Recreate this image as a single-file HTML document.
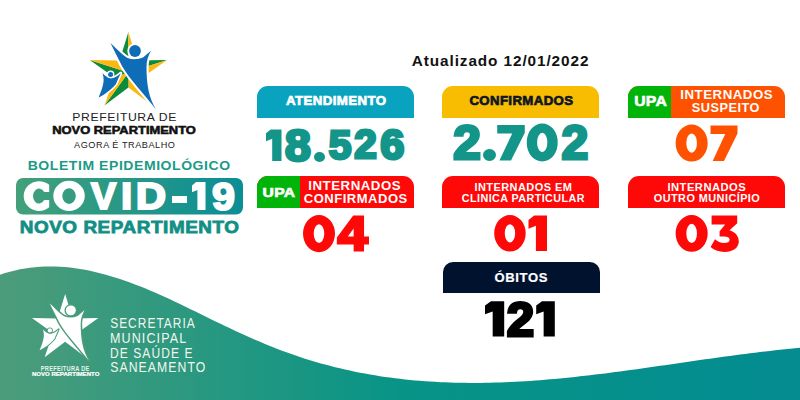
<!DOCTYPE html>
<html><head><meta charset="utf-8">
<style>
html,body{margin:0;padding:0;}
body{width:800px;height:400px;position:relative;overflow:hidden;background:#fff;font-family:"Liberation Sans",sans-serif;}
.t{position:absolute;left:0;top:0;white-space:nowrap;line-height:1;transform-origin:0 0;}
.hd{position:absolute;height:31px;border-radius:11px 11px 0 0;overflow:hidden;}
.g{position:absolute;left:0;top:0;width:43px;height:100%;background:#00b40a;}
svg{position:absolute;}
</style></head><body>
<svg style="left:0;top:0" width="800" height="400" viewBox="0 0 800 400">
<defs>
<linearGradient id="wg" x1="0" y1="0" x2="800" y2="0" gradientUnits="userSpaceOnUse">
<stop offset="0" stop-color="#4c9c7a"/>
<stop offset="0.5" stop-color="#079486"/>
<stop offset="1" stop-color="#048c91"/>
</linearGradient>
<linearGradient id="cg" x1="16" y1="0" x2="243" y2="0" gradientUnits="userSpaceOnUse">
<stop offset="0" stop-color="#43a07a"/>
<stop offset="1" stop-color="#0a8e96"/>
</linearGradient>
</defs>
<path d="M0,274.69 L5,273.07 L10,271.63 L15,270.38 L20,269.31 L25,268.42 L30,267.70 L35,267.14 L40,266.75 L45,266.51 L50,266.43 L55,266.50 L60,266.72 L65,267.07 L70,267.56 L75,268.18 L80,268.94 L85,269.81 L90,270.80 L95,271.91 L100,273.13 L105,274.46 L110,275.88 L115,277.41 L120,279.02 L125,280.73 L130,282.52 L135,284.39 L140,286.33 L145,288.35 L150,290.44 L155,292.58 L160,294.79 L165,297.04 L170,299.35 L175,301.70 L180,304.08 L185,306.48 L190,308.91 L195,311.35 L200,313.80 L205,316.25 L210,318.70 L215,321.13 L220,323.54 L225,325.94 L230,328.31 L235,330.66 L240,332.97 L245,335.25 L250,337.49 L255,339.69 L260,341.85 L265,343.95 L270,346.00 L275,347.99 L280,349.93 L285,351.80 L290,353.60 L295,355.35 L300,357.03 L305,358.65 L310,360.21 L315,361.71 L320,363.15 L325,364.54 L330,365.86 L335,367.13 L340,368.35 L345,369.51 L350,370.61 L355,371.66 L360,372.66 L365,373.61 L370,374.50 L375,375.35 L380,376.15 L385,376.90 L390,377.60 L395,378.25 L400,378.85 L405,379.41 L410,379.93 L415,380.40 L420,380.83 L425,381.22 L430,381.56 L435,381.87 L440,382.13 L445,382.35 L450,382.54 L455,382.69 L460,382.80 L465,382.87 L470,382.91 L475,382.91 L480,382.88 L485,382.82 L490,382.72 L495,382.60 L500,382.44 L505,382.25 L510,382.03 L515,381.79 L520,381.52 L525,381.21 L530,380.89 L535,380.54 L540,380.16 L545,379.76 L550,379.34 L555,378.89 L560,378.42 L565,377.94 L570,377.43 L575,376.90 L580,376.36 L585,375.79 L590,375.21 L595,374.62 L600,374.01 L605,373.38 L610,372.75 L615,372.10 L620,371.44 L625,370.76 L630,370.08 L635,369.39 L640,368.70 L645,367.99 L650,367.29 L655,366.57 L660,365.85 L665,365.13 L670,364.41 L675,363.69 L680,362.96 L685,362.24 L690,361.51 L695,360.79 L700,360.08 L705,359.36 L710,358.66 L715,357.95 L720,357.26 L725,356.57 L730,355.89 L735,355.23 L740,354.57 L745,353.92 L750,353.29 L755,352.67 L760,352.06 L765,351.47 L770,350.89 L775,350.34 L780,349.79 L785,349.27 L790,348.77 L795,348.29 L800,347.83 L800,400 L0,400 Z" fill="url(#wg)"/>
<rect x="16" y="178" width="227" height="36.6" rx="7" fill="url(#cg)"/>
</svg>
<svg style="left:0;top:0" width="800" height="400" viewBox="0 0 800 400">
<path d="M128.4,31.9 L119.58,60.46 L128.4,60.46 Z" fill="#0d8a3a"/>
<path d="M128.4,31.9 L128.4,60.46 L137.22,60.46 Z" fill="#fbb813"/>
<path d="M167.11,60.02 L137.22,60.46 L139.94,68.85 Z" fill="#0d8a3a"/>
<path d="M167.11,60.02 L139.94,68.85 L142.67,77.24 Z" fill="#fbb813"/>
<path d="M152.32,105.53 L142.67,77.24 L128.4,72.6 Z" fill="#0d8a3a"/>
<path d="M152.32,105.53 L128.4,72.6 L128.4,87.6 Z" fill="#fbb813"/>
<path d="M104.48,105.53 L128.4,87.6 L128.4,72.6 Z" fill="#0d8a3a"/>
<path d="M104.48,105.53 L128.4,72.6 L114.13,77.24 Z" fill="#fbb813"/>
<path d="M89.69,60.02 L114.13,77.24 L128.4,72.6 Z" fill="#0d8a3a"/>
<path d="M89.69,60.02 L128.4,72.6 L119.58,60.46 Z" fill="#fbb813"/>
<path d="M110.5,43 C116,48 121,54 127,57.8 Q135,61 143,57.5 L151,50.8 C148,56 146.5,61 146.5,67 C146.5,85 149,98 156,109.5 C145,95 130,80 122,66 C118,58 114,50 110.5,43 Z" fill="#0f6db8" stroke="#fff" stroke-width="4.2" stroke-linejoin="round" paint-order="stroke"/>
<circle cx="135" cy="51" r="5.9" fill="#0f6db8" stroke="#fff" stroke-width="3.6" paint-order="stroke"/>
<path d="M102.5,73.2 C106,76.5 108.5,78.3 111,78.3 C114,78.3 117,76.5 120.8,73.2 C119,77 117.5,80 116,84 C111,90 104,95 98.6,97.5 C101,92 103,86 103.5,82 C103.8,79 103.5,76 102.5,73.2 Z" fill="#0f6db8" stroke="#fff" stroke-width="3" stroke-linejoin="round" paint-order="stroke"/>
<circle cx="110.6" cy="74.4" r="2.5" fill="#0f6db8" stroke="#fff" stroke-width="2.6" paint-order="stroke"/>
</svg>
<svg style="left:0;top:0" width="800" height="400" viewBox="0 0 800 400">
<g transform="translate(65.15 328.9) scale(0.858) translate(-128.4 -72.6)">
<path d="M128.4,31.9 L119.58,60.46 L128.4,60.46 Z M128.4,31.9 L128.4,60.46 L137.22,60.46 Z M167.11,60.02 L137.22,60.46 L139.94,68.85 Z M167.11,60.02 L139.94,68.85 L142.67,77.24 Z M152.32,105.53 L142.67,77.24 L128.4,72.6 Z M152.32,105.53 L128.4,72.6 L128.4,87.6 Z M104.48,105.53 L128.4,87.6 L128.4,72.6 Z M104.48,105.53 L128.4,72.6 L114.13,77.24 Z M89.69,60.02 L114.13,77.24 L128.4,72.6 Z M89.69,60.02 L128.4,72.6 L119.58,60.46 Z" fill="#fff"/>
<path d="M110.5,43 C116,48 121,54 127,57.8 Q135,61 143,57.5 L151,50.8 C148,56 146.5,61 146.5,67 C146.5,85 149,98 156,109.5 C145,95 130,80 122,66 C118,58 114,50 110.5,43 Z" fill="#fff" stroke="#4a9c7b" stroke-width="3.4" stroke-linejoin="round" paint-order="stroke"/>
<circle cx="135" cy="51" r="5.8" fill="#fff" stroke="#4a9c7b" stroke-width="3.2" paint-order="stroke"/>
<path d="M102.5,73.2 C106,76.5 108.5,78.3 111,78.3 C114,78.3 117,76.5 120.8,73.2 C119,77 117.5,80 116,84 C111,90 104,95 98.6,97.5 C101,92 103,86 103.5,82 C103.8,79 103.5,76 102.5,73.2 Z" fill="#fff" stroke="#4a9c7b" stroke-width="2.4" stroke-linejoin="round" paint-order="stroke"/>
<circle cx="110.6" cy="74.4" r="2.5" fill="#fff" stroke="#4a9c7b" stroke-width="2" paint-order="stroke"/>
</g>
</svg>
<div class="hd" style="left:257px;top:86px;width:157px;height:31.5px;background:#09a3bf;"></div>
<div class="hd" style="left:442px;top:86px;width:157px;height:31.5px;background:#f8bc00;"></div>
<div class="hd" style="left:628px;top:86px;width:157px;height:31.5px;background:#ff5200;"><div class="g"></div></div>
<div class="hd" style="left:257px;top:176px;width:157px;height:31.5px;background:#ff0808;"><div class="g"></div></div>
<div class="hd" style="left:442px;top:176px;width:157px;height:31.5px;background:#ff0808;"></div>
<div class="hd" style="left:628px;top:176px;width:157px;height:31.5px;background:#ff0808;"></div>
<div class="hd" style="left:442.5px;top:262px;width:157px;height:30.8px;border-radius:10px 10px 0 0;background:#01122e;"></div>
<div class="t" style="font-size:14.7px;font-weight:bold;color:#111111;letter-spacing:0.06em;transform:translate(411.75px,53.96px) scaleX(1.0425);">Atualizado 12/01/2022</div>
<div class="t" style="font-size:13.04px;font-weight:bold;color:#ffffff;-webkit-text-stroke:0.7px #ffffff;letter-spacing:0.03em;transform:translate(286.07px,94.45px) scaleX(1.0181);">ATENDIMENTO</div>
<div class="t" style="font-size:13.04px;font-weight:bold;color:#0d1626;-webkit-text-stroke:0.7px #0d1626;letter-spacing:0.03em;transform:translate(469.38px,94.45px) scaleX(1.013);">CONFIRMADOS</div>
<div class="t" style="font-size:14.42px;font-weight:bold;color:#ffffff;-webkit-text-stroke:0.6px #ffffff;letter-spacing:0.02em;transform:translate(634.13px,94.45px) scaleX(1.0911);">UPA</div>
<div class="t" style="font-size:13.0px;font-weight:bold;color:#ffffff;letter-spacing:0.04em;transform:translate(680.29px,88.0px) scaleX(1.0189);">INTERNADOS</div>
<div class="t" style="font-size:13.21px;font-weight:bold;color:#ffffff;letter-spacing:0.04em;transform:translate(691.77px,101.0px) scaleX(0.9626);">SUSPEITO</div>
<div class="t" style="font-size:13.07px;font-weight:bold;color:#ffffff;-webkit-text-stroke:0.6px #ffffff;letter-spacing:0.02em;transform:translate(262.6px,186.45px) scaleX(1.1971);">UPA</div>
<div class="t" style="font-size:13.0px;font-weight:bold;color:#ffffff;letter-spacing:0.04em;transform:translate(308.29px,179.0px) scaleX(1.0189);">INTERNADOS</div>
<div class="t" style="font-size:13.0px;font-weight:bold;color:#ffffff;letter-spacing:0.04em;transform:translate(303.77px,192.0px) scaleX(1.0005);">CONFIRMADOS</div>
<div class="t" style="font-size:10.65px;font-weight:bold;color:#ffffff;letter-spacing:0.04em;transform:translate(474.46px,182.0px) scaleX(1.0325);">INTERNADOS EM</div>
<div class="t" style="font-size:10.62px;font-weight:bold;color:#ffffff;letter-spacing:0.04em;transform:translate(461.8px,193.2px) scaleX(1.0142);">CLINICA PARTICULAR</div>
<div class="t" style="font-size:10.65px;font-weight:bold;color:#ffffff;letter-spacing:0.04em;transform:translate(667.48px,182.0px) scaleX(1.0548);">INTERNADOS</div>
<div class="t" style="font-size:10.62px;font-weight:bold;color:#ffffff;letter-spacing:0.04em;transform:translate(653.79px,193.2px) scaleX(1.0273);">OUTRO MUNICÍPIO</div>
<div class="t" style="font-size:13.0px;font-weight:bold;color:#ffffff;-webkit-text-stroke:0.2px #ffffff;letter-spacing:0.05em;transform:translate(494.41px,271.0px) scaleX(1.0035);">ÓBITOS</div>
<div class="t" style="font-size:11.65px;font-weight:normal;color:#222222;letter-spacing:0.05em;transform:translate(72.27px,110.99px) scaleX(1.0459);">PREFEITURA DE</div>
<div class="t" style="font-size:11.52px;font-weight:bold;color:#111111;-webkit-text-stroke:0.6px #111111;letter-spacing:0em;transform:translate(52.21px,124.85px) scaleX(1.1205);">NOVO REPARTIMENTO</div>
<div class="t" style="font-size:8.97px;font-weight:normal;color:#1a1a1a;letter-spacing:0.06em;transform:translate(74.08px,140.54px) scaleX(1.017);">AGORA É TRABALHO</div>
<div class="t" style="font-size:13.47px;font-weight:bold;color:#1b9a86;letter-spacing:0.04em;transform:translate(27.69px,159.0px) scaleX(1.0399);">BOLETIM EPIDEMIOLÓGICO</div>
<div class="t" style="font-size:17.12px;font-weight:bold;color:#128f85;-webkit-text-stroke:0.8px #128f85;letter-spacing:0.03em;transform:translate(19.7px,218.89px) scaleX(1.104);">NOVO REPARTIMENTO</div>
<div class="t" style="font-size:13.83px;font-weight:normal;color:#f2f7ee;letter-spacing:0.09em;transform:translate(110.14px,317.0px) scaleX(0.8584);">SECRETARIA</div>
<div class="t" style="font-size:13.83px;font-weight:normal;color:#f2f7ee;letter-spacing:0.09em;transform:translate(109.98px,332.0px) scaleX(0.904);">MUNICIPAL</div>
<div class="t" style="font-size:13.75px;font-weight:normal;color:#f2f7ee;letter-spacing:0.09em;transform:translate(110.02px,347.0px) scaleX(0.8725);">DE SAÚDE E</div>
<div class="t" style="font-size:15.1px;font-weight:normal;color:#f2f7ee;letter-spacing:0.09em;transform:translate(110.14px,359.0px) scaleX(0.8095);">SANEAMENTO</div>
<div class="t" style="font-size:6.36px;font-weight:bold;color:#e6f2ea;letter-spacing:0.05em;transform:translate(40.81px,366.06px) scaleX(0.8848);">PREFEITURA DE</div>
<div class="t" style="font-size:5.68px;font-weight:bold;color:#ffffff;-webkit-text-stroke:0.2px #ffffff;letter-spacing:0.0em;transform:translate(31.9px,372.03px) scaleX(1.0683);">NOVO REPARTIMENTO</div>
<svg style="left:0;top:0" width="800" height="400"><polygon points="266.0,133.37 270.81,129.5 281.5,129.5 281.5,161.0 272.2,161.0 272.2,138.63 266.0,141.16" fill="#14958a"/></svg>
<div class="t" style="font-size:43.78px;font-weight:bold;color:#14958a;-webkit-text-stroke:3px #14958a;letter-spacing:0em;transform:translate(284.9px,124.37px) scaleX(1.0583);">8</div>
<div style="position:absolute;left:313.5px;top:151.5px;width:11.0px;height:10.0px;border-radius:50%;background:#14958a;"></div>
<div class="t" style="font-size:41.29px;font-weight:bold;color:#14958a;-webkit-text-stroke:3px #14958a;letter-spacing:0em;transform:translate(328.72px,125.39px) scaleX(0.9863);">5</div>
<div class="t" style="font-size:40.47px;font-weight:bold;color:#14958a;-webkit-text-stroke:3px #14958a;letter-spacing:0em;transform:translate(354.26px,124.1px) scaleX(0.9976);">2</div>
<div class="t" style="font-size:42.39px;font-weight:bold;color:#14958a;-webkit-text-stroke:3px #14958a;letter-spacing:0em;transform:translate(380.29px,124.01px) scaleX(1.0233);">6</div>
<div class="t" style="font-size:47.69px;font-weight:bold;color:#14958a;-webkit-text-stroke:3px #14958a;letter-spacing:0em;transform:translate(453.22px,119.24px) scaleX(1.0417);">2</div>
<div style="position:absolute;left:483.2px;top:149.2px;width:12.800000000000011px;height:11.800000000000011px;border-radius:50%;background:#14958a;"></div>
<svg style="left:0;top:0" width="800" height="400"><polygon points="497.2,125.0 524.8,125.0 524.8,132.81 511.0,160.5 499.41,160.5 512.24,133.41 497.2,133.41" fill="#14958a"/></svg>
<svg style="left:0;top:0" width="800" height="400"><path d="M526.75,142.50 a15.48,18.50 0 1,0 30.95,0 a15.48,18.50 0 1,0 -30.95,0 Z M537.12,142.50 a5.11,9.25 0 1,0 10.21,0 a5.11,9.25 0 1,0 -10.21,0 Z" fill="#14958a" fill-rule="evenodd"/></svg>
<div class="t" style="font-size:47.27px;font-weight:bold;color:#14958a;-webkit-text-stroke:3px #14958a;letter-spacing:0em;transform:translate(561.48px,119.37px) scaleX(1.0165);">2</div>
<svg style="left:0;top:0" width="800" height="400"><path d="M675.60,143.05 a16.05,18.55 0 1,0 32.10,0 a16.05,18.55 0 1,0 -32.10,0 Z M686.35,143.05 a5.30,9.27 0 1,0 10.59,0 a5.30,9.27 0 1,0 -10.59,0 Z" fill="#ff5200" fill-rule="evenodd"/></svg>
<svg style="left:0;top:0" width="800" height="400"><polygon points="710.5,125.6 737.5,125.6 737.5,133.39 724.0,161.0 712.66,161.0 725.22,133.99 710.5,133.99" fill="#ff5200"/></svg>
<svg style="left:0;top:0" width="800" height="400"><path d="M303.00,233.60 a16.00,18.60 0 1,0 32.00,0 a16.00,18.60 0 1,0 -32.00,0 Z M313.72,233.60 a5.28,9.30 0 1,0 10.56,0 a5.28,9.30 0 1,0 -10.56,0 Z" fill="#ff0808" fill-rule="evenodd"/></svg>
<div class="t" style="font-size:47.55px;font-weight:bold;color:#ff0808;-webkit-text-stroke:3px #ff0808;letter-spacing:0em;transform:translate(337.69px,209.84px) scaleX(1.1279);">4</div>
<svg style="left:0;top:0" width="800" height="400"><path d="M494.20,233.30 a15.75,18.30 0 1,0 31.50,0 a15.75,18.30 0 1,0 -31.50,0 Z M504.75,233.30 a5.20,9.15 0 1,0 10.40,0 a5.20,9.15 0 1,0 -10.40,0 Z" fill="#ff0808" fill-rule="evenodd"/></svg>
<svg style="left:0;top:0" width="800" height="400"><polygon points="528.5,219.95 534.24,215.6 547.0,215.6 547.0,251.0 535.9,251.0 535.9,225.87 528.5,228.7" fill="#ff0808"/></svg>
<svg style="left:0;top:0" width="800" height="400"><path d="M675.60,233.40 a16.05,18.40 0 1,0 32.10,0 a16.05,18.40 0 1,0 -32.10,0 Z M686.35,233.40 a5.30,9.20 0 1,0 10.59,0 a5.30,9.20 0 1,0 -10.59,0 Z" fill="#ff0808" fill-rule="evenodd"/></svg>
<svg style="left:0;top:0" width="800" height="400"><path d="M711.6,215.5 L737.2,215.5 L737.2,223.2 L729.5,230.2 C735,231.8 738.8,235.8 738.8,241.5 C738.8,248 732.5,251.9 724.5,251.9 C718.5,251.9 713.8,250 710.6,247 L715,239.3 C717.6,241.6 720.6,243 724,243 C727.6,243 729.6,241.9 729.6,239.7 C729.6,237.5 727.6,236.4 724,236.4 L719.6,236.4 L719.6,231.2 L725.2,224.4 L711.6,224.4 Z" fill="#ff0808"/></svg>
<svg style="left:0;top:0" width="800" height="400"><polygon points="485.0,305.55 490.95,301.2 504.2,301.2 504.2,336.6 492.68,336.6 492.68,311.47 485.0,314.3" fill="#000000"/></svg>
<div class="t" style="font-size:47.31px;font-weight:bold;color:#000000;-webkit-text-stroke:3px #000000;letter-spacing:0em;transform:translate(506.87px,296.08px) scaleX(1.0401);">2</div>
<svg style="left:0;top:0" width="800" height="400"><polygon points="536.2,305.55 541.97,301.2 554.8,301.2 554.8,336.6 543.64,336.6 543.64,311.47 536.2,314.3" fill="#000000"/></svg>
<svg style="left:0;top:0" width="800" height="400"><path d="M49.2,184.85 A15.4,14.85 0 1,0 49.2,207.25 L49.2,200.1 L44.2,200.1 A6.1,7.45 0 1,1 44.2,192 L49.2,192 Z" fill="#ffffff"/></svg>
<svg style="left:0;top:0" width="800" height="400"><path d="M53.3,195.85 a15.75,15.05 0 1,0 31.5,0 a15.75,15.05 0 1,0 -31.5,0 Z M62.3,196.05 a6.75,7.85 0 1,0 13.5,0 a6.75,7.85 0 1,0 -13.5,0 Z" fill="#ffffff" fill-rule="evenodd"/></svg>
<div class="t" style="font-size:37.56px;font-weight:bold;color:#ffffff;-webkit-text-stroke:2px #ffffff;letter-spacing:0em;transform:translate(90.91px,178.0px) scaleX(1.0043);">V</div>
<div class="t" style="font-size:37.56px;font-weight:bold;color:#ffffff;-webkit-text-stroke:2px #ffffff;letter-spacing:0em;transform:translate(120.92px,178.0px) scaleX(1.0736);">I</div>
<div class="t" style="font-size:37.56px;font-weight:bold;color:#ffffff;-webkit-text-stroke:2px #ffffff;letter-spacing:0em;transform:translate(135.86px,178.0px) scaleX(1.1178);">D</div>
<div style="position:absolute;left:172px;top:195.5px;width:14.5px;height:7.0px;background:#ffffff;"></div>
<svg style="left:0;top:0" width="800" height="400"><polygon points="192.0,185.44 196.19,182 205.5,182 205.5,210 197.4,210 197.4,190.12 192.0,192.36" fill="#ffffff"/></svg>
<div class="t" style="font-size:38.96px;font-weight:bold;color:#ffffff;-webkit-text-stroke:2px #ffffff;letter-spacing:0em;transform:translate(211.93px,177.5px) scaleX(1.061);">9</div>
</body></html>
